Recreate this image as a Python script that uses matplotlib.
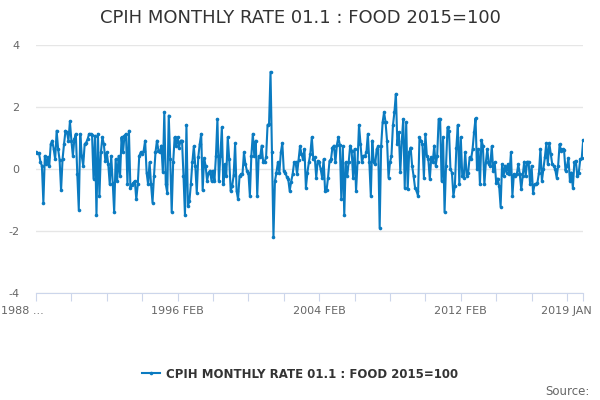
import matplotlib
matplotlib.use("Agg")
import matplotlib.pyplot as plt
from matplotlib.transforms import ScaledTranslation
from matplotlib.lines import Line2D

title = "CPIH MONTHLY RATE 01.1 : FOOD 2015=100"
series_name = "CPIH MONTHLY RATE 01.1 : FOOD 2015=100"
start_year, start_month = 1988, 2  # 1988 FEB
month_names = ["JAN", "FEB", "MAR", "APR", "MAY", "JUN",
               "JUL", "AUG", "SEP", "OCT", "NOV", "DEC"]

values = [
    0.54, 0.52, 0.52, 0.24, 0.11, -1.08, 0.43, 0.16, 0.38, 0.11, 0.81, 0.92,
    0.65, 0.32, 1.24, 0.65, 0.30, -0.68, 0.32, 0.81, 1.24, 1.19, 0.92, 1.54,
    0.92, 0.43, 0.97, 1.14, -0.16, -1.30, 1.14, 0.43, 0.11, 0.81, 0.86, 0.97,
    1.14, 1.14, 1.10, -0.30, 1.08, -1.48, 1.14, -0.86, 0.54, 1.03, 0.81, 0.27,
    0.54, 0.16, -0.49, 0.43, -0.43, -1.38, 0.32, -0.38, 0.43, -0.22, 1.03, 0.54,
    1.08, 1.14, -0.49, 1.24, -0.60, -0.50, -0.45, -0.38, -0.97, -0.49, 0.43, 0.54,
    0.49, 0.60, 0.92, -0.11, -0.49, 0.22, -0.49, -1.08, -0.22, 0.54, 0.92, 0.60,
    0.54, 0.76, -0.09, 1.84, -0.49, -0.76, 1.73, 0.32, -1.38, 0.22, 1.03, 0.76,
    1.03, 0.70, 0.92, 0.92, -0.22, -1.49, 1.43, -1.19, -1.03, -0.49, 0.22, 0.74,
    0.11, -0.76, 0.38, 0.81, 1.14, -0.68, 0.35, 0.11, -0.38, -0.11, -0.05, -0.38,
    -0.05, -0.38, 0.43, 1.62, -0.38, 0.43, 1.35, -0.49, 0.16, -0.22, 1.03, 0.32,
    -0.70, -0.54, -0.20, 0.83, -0.70, -0.97, -0.22, -0.16, -0.16, 0.54, 0.16, -0.05,
    -0.11, -0.86, 0.43, 1.14, 0.43, 0.92, -0.86, 0.43, 0.38, 0.76, 0.24, 0.24,
    0.38, 1.43, 1.46, 3.14, 0.54, -2.18, -0.38, -0.11, 0.22, -0.11, 0.54, 0.84,
    -0.05, -0.11, -0.24, -0.32, -0.70, -0.40, -0.16, 0.22, 0.22, -0.16, 0.30, 0.74,
    0.50, 0.32, 0.65, -0.60, -0.11, 0.22, 0.50, 1.03, 0.32, 0.38, -0.27, 0.27,
    0.22, 0.00, -0.27, 0.32, -0.70, -0.68, -0.27, 0.27, 0.32, 0.70, 0.76, 0.22,
    0.78, 1.03, 0.78, -0.97, 0.74, -1.49, 0.22, -0.22, 0.22, 0.76, 0.60, -0.27,
    0.65, -0.70, 0.22, 1.43, 0.81, 0.22, 0.43, 0.43, 0.54, 1.14, 0.22, -0.86,
    0.92, 0.22, 0.16, 0.65, 0.74, -1.89, 0.74, 1.51, 1.84, 1.51, 0.92, -0.27,
    0.22, 0.43, 1.41, 1.84, 2.43, 0.81, 1.19, -0.09, 0.92, 1.62, -0.60, 1.51,
    -0.65, 0.54, 0.70, 0.11, -0.22, -0.60, -0.70, -0.86, 1.03, 0.92, 0.81, -0.27,
    1.14, 0.43, 0.32, -0.32, 0.38, 0.22, 0.76, 0.11, 0.43, 1.62, 1.62, -0.38,
    1.03, -1.38, 0.11, 1.35, 1.24, 0.00, -0.11, -0.86, -0.54, 0.70, 1.43, -0.49,
    1.03, -0.22, -0.27, 0.54, -0.22, -0.11, 0.38, 0.32, 0.65, 1.19, 1.64, 0.00,
    0.65, -0.49, 0.94, 0.76, -0.49, 0.22, 0.65, 0.16, 0.11, 0.74, -0.05, 0.22,
    -0.43, -0.30, -0.54, -1.21, 0.16, -0.22, 0.11, -0.11, 0.16, -0.16, 0.54, -0.86,
    -0.16, -0.22, -0.16, 0.16, -0.16, -0.65, -0.22, 0.24, -0.22, 0.24, 0.24, -0.49,
    0.11, -0.76, -0.49, -0.49, -0.43, -0.11, 0.65, -0.38, 0.00, 0.38, 0.83, 0.16,
    0.84, 0.49, 0.16, 0.11, 0.00, -0.27, 0.11, 0.81, 0.60, 0.65, 0.62, -0.05,
    0.11, 0.35, -0.38, -0.11, -0.60, 0.22, 0.27, -0.22, -0.11, 0.32, 0.35, 0.94,
]

y_ticks = [-4, -2, 0, 2, 4]

n = len(values)
labels = []
for k in range(n):
    m = start_month - 1 + k
    labels.append(f"{start_year + m // 12} {month_names[m % 12]}")

x = list(range(n))
tick_pos = list(range(0, n, 24))
if tick_pos[-1] != n - 1:
    tick_pos.append(n - 1)
tick_lab = []
for j, p in enumerate(tick_pos):
    if p == n - 1 or j % 4 == 0:
        tick_lab.append(labels[p])
    else:
        tick_lab.append("")
tick_lab[0] = labels[0][:4] + " ..."

color = "#0b7bc1"
fig = plt.figure(figsize=(6, 4), dpi=100)
ax = fig.add_axes([0.06, 0.267, 0.912, 0.62])
ax.plot(x, values, color=color, linewidth=1.5, marker="o", markersize=2.6,
        markeredgewidth=0)
ax.set_xlim(0, n - 1)
ax.set_ylim(-4, 4)
ax.set_yticks(y_ticks)
ax.set_yticklabels([str(v) for v in y_ticks])
ax.grid(axis="y", color="#e6e6e6", linewidth=1)
ax.set_axisbelow(True)
for s in ["top", "right", "left"]:
    ax.spines[s].set_visible(False)
ax.spines["bottom"].set_color("#ccd6eb")
ax.tick_params(axis="y", length=0, labelsize=8, labelcolor="#666666", pad=12)
ax.set_xticks(tick_pos)
ax.set_xticklabels(tick_lab)
ax.tick_params(axis="x", length=6, color="#ccd6eb", labelsize=8,
               labelcolor="#666666", pad=3)
xl = ax.get_xticklabels()
xl[0].set_transform(xl[0].get_transform() + ScaledTranslation(-14 / 100, 0, fig.dpi_scale_trans))
xl[-1].set_transform(xl[-1].get_transform() + ScaledTranslation(-17 / 100, 0, fig.dpi_scale_trans))

fig.text(0.5, 0.955, title, ha="center", va="center", fontsize=13, color="#333333")

h = Line2D([], [], color=color, linewidth=1.5, marker="o", markersize=2.6, markeredgewidth=0)
fig.legend([h], [series_name], loc="center", bbox_to_anchor=(0.5, 0.065), frameon=False,
           prop={"weight": "bold", "size": 8.5}, handlelength=1.6, handletextpad=0.5,
           labelcolor="#333333")
fig.text(0.982, 0.022, "Source:", ha="right", va="center", fontsize=8.5, color="#666666")

fig.savefig("out.png", dpi=100)
